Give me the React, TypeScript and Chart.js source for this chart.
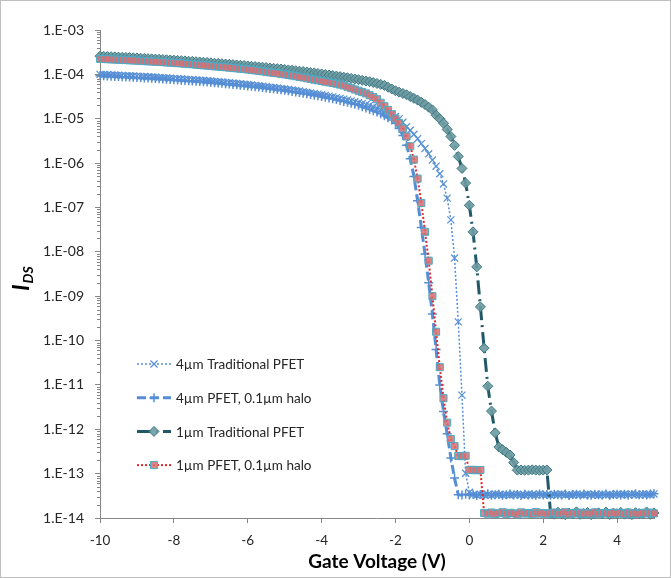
import React, { useEffect, useRef } from 'react';
import { Chart, registerables } from 'chart.js';
import { drawPoint } from 'chart.js/helpers';

Chart.register(...registerables);

// Gate voltage sweep (V)
const gateVoltage = [
  -10, -9.9, -9.8, -9.7, -9.6, -9.5, -9.4, -9.3, -9.2, -9.1,
  -9, -8.9, -8.8, -8.7, -8.6, -8.5, -8.4, -8.3, -8.2, -8.1,
  -8, -7.9, -7.8, -7.7, -7.6, -7.5, -7.4, -7.3, -7.2, -7.1,
  -7, -6.9, -6.8, -6.7, -6.6, -6.5, -6.4, -6.3, -6.2, -6.1,
  -6, -5.9, -5.8, -5.7, -5.6, -5.5, -5.4, -5.3, -5.2, -5.1,
  -5, -4.9, -4.8, -4.7, -4.6, -4.5, -4.4, -4.3, -4.2, -4.1,
  -4, -3.9, -3.8, -3.7, -3.6, -3.5, -3.4, -3.3, -3.2, -3.1,
  -3, -2.9, -2.8, -2.7, -2.6, -2.5, -2.4, -2.3, -2.2, -2.1,
  -2, -1.9, -1.8, -1.7, -1.6, -1.5, -1.4, -1.3, -1.2, -1.1,
  -1, -0.9, -0.8, -0.7, -0.6, -0.5, -0.4, -0.3, -0.2, -0.1,
  0, 0.1, 0.2, 0.3, 0.4, 0.5, 0.6, 0.7, 0.8, 0.9,
  1, 1.1, 1.2, 1.3, 1.4, 1.5, 1.6, 1.7, 1.8, 1.9,
  2, 2.1, 2.2, 2.3, 2.4, 2.5, 2.6, 2.7, 2.8, 2.9,
  3, 3.1, 3.2, 3.3, 3.4, 3.5, 3.6, 3.7, 3.8, 3.9,
  4, 4.1, 4.2, 4.3, 4.4, 4.5, 4.6, 4.7, 4.8, 4.9,
  5,
];

// I_DS (A) — 4µm Traditional PFET
const idsTrad4um = [
  1.00e-4, 9.91e-5, 9.82e-5, 9.73e-5, 9.64e-5, 9.56e-5, 9.47e-5, 9.38e-5, 9.29e-5, 9.21e-5,
  9.12e-5, 9.02e-5, 8.92e-5, 8.82e-5, 8.72e-5, 8.62e-5, 8.52e-5, 8.42e-5, 8.33e-5, 8.23e-5,
  8.13e-5, 8.03e-5, 7.92e-5, 7.82e-5, 7.71e-5, 7.61e-5, 7.50e-5, 7.40e-5, 7.29e-5, 7.19e-5,
  7.08e-5, 6.96e-5, 6.84e-5, 6.72e-5, 6.60e-5, 6.48e-5, 6.37e-5, 6.25e-5, 6.13e-5, 6.01e-5,
  5.89e-5, 5.77e-5, 5.65e-5, 5.53e-5, 5.41e-5, 5.29e-5, 5.16e-5, 5.04e-5, 4.92e-5, 4.80e-5,
  4.68e-5, 4.56e-5, 4.44e-5, 4.32e-5, 4.20e-5, 4.08e-5, 3.95e-5, 3.83e-5, 3.71e-5, 3.59e-5,
  3.47e-5, 3.35e-5, 3.23e-5, 3.11e-5, 2.99e-5, 2.88e-5, 2.76e-5, 2.64e-5, 2.52e-5, 2.41e-5,
  2.29e-5, 2.19e-5, 2.09e-5, 2.00e-5, 1.86e-5, 1.74e-5, 1.62e-5, 1.51e-5, 1.38e-5, 1.26e-5,
  1.12e-5, 1.00e-5, 8.32e-6, 6.61e-6, 5.50e-6, 4.47e-6, 3.55e-6, 2.75e-6, 2.14e-6, 1.62e-6,
  1.17e-6, 8.51e-7, 5.75e-7, 3.39e-7, 1.62e-7, 5.25e-8, 7.24e-9, 2.63e-10, 5.89e-12, 1.02e-13,
  3.80e-14, 3.36e-14, 3.27e-14, 3.44e-14, 3.30e-14, 3.39e-14, 3.23e-14, 3.47e-14, 3.34e-14, 3.28e-14,
  3.41e-14, 3.25e-14, 3.38e-14, 3.45e-14, 3.31e-14, 3.26e-14, 3.43e-14, 3.35e-14, 3.29e-14, 3.48e-14,
  3.32e-14, 3.37e-14, 3.24e-14, 3.42e-14, 3.33e-14, 3.46e-14, 3.28e-14, 3.40e-14, 3.30e-14, 3.44e-14,
  3.36e-14, 3.27e-14, 3.49e-14, 3.34e-14, 3.38e-14, 3.25e-14, 3.45e-14, 3.31e-14, 3.41e-14, 3.29e-14,
  3.47e-14, 3.35e-14, 3.43e-14, 3.32e-14, 3.50e-14, 3.37e-14, 3.28e-14, 3.46e-14, 3.39e-14, 3.33e-14,
  3.48e-14,
];

// I_DS (A) — 4µm PFET, 0.1µm halo
const idsHalo4um = [
  9.33e-5, 9.25e-5, 9.17e-5, 9.09e-5, 9.00e-5, 8.92e-5, 8.84e-5, 8.76e-5, 8.67e-5, 8.59e-5,
  8.51e-5, 8.42e-5, 8.33e-5, 8.24e-5, 8.14e-5, 8.05e-5, 7.96e-5, 7.87e-5, 7.78e-5, 7.68e-5,
  7.59e-5, 7.49e-5, 7.39e-5, 7.30e-5, 7.20e-5, 7.10e-5, 7.00e-5, 6.90e-5, 6.81e-5, 6.71e-5,
  6.61e-5, 6.50e-5, 6.39e-5, 6.28e-5, 6.17e-5, 6.06e-5, 5.94e-5, 5.83e-5, 5.72e-5, 5.61e-5,
  5.50e-5, 5.39e-5, 5.27e-5, 5.16e-5, 5.05e-5, 4.94e-5, 4.82e-5, 4.71e-5, 4.60e-5, 4.48e-5,
  4.37e-5, 4.25e-5, 4.13e-5, 4.01e-5, 3.89e-5, 3.77e-5, 3.64e-5, 3.52e-5, 3.40e-5, 3.28e-5,
  3.16e-5, 3.04e-5, 2.93e-5, 2.81e-5, 2.70e-5, 2.58e-5, 2.46e-5, 2.35e-5, 2.23e-5, 2.12e-5,
  2.00e-5, 1.86e-5, 1.74e-5, 1.62e-5, 1.51e-5, 1.41e-5, 1.29e-5, 1.17e-5, 1.05e-5, 9.33e-6,
  7.94e-6, 6.03e-6, 4.17e-6, 2.51e-6, 1.26e-6, 5.01e-7, 1.41e-7, 3.55e-8, 8.91e-9, 2.00e-9,
  3.98e-10, 6.31e-11, 1.00e-11, 2.51e-12, 7.94e-13, 2.24e-13, 7.94e-14, 3.35e-14, 3.28e-14, 3.42e-14,
  3.31e-14, 3.45e-14, 3.22e-14, 3.38e-14, 3.29e-14, 3.50e-14, 3.26e-14, 3.36e-14, 3.41e-14, 3.24e-14,
  3.33e-14, 3.47e-14, 3.28e-14, 3.39e-14, 3.21e-14, 3.44e-14, 3.32e-14, 3.36e-14, 3.27e-14, 3.48e-14,
  3.30e-14, 3.40e-14, 3.25e-14, 3.43e-14, 3.34e-14, 3.29e-14, 3.46e-14, 3.23e-14, 3.37e-14, 3.41e-14,
  3.28e-14, 3.49e-14, 3.32e-14, 3.26e-14, 3.44e-14, 3.35e-14, 3.30e-14, 3.47e-14, 3.24e-14, 3.39e-14,
  3.42e-14, 3.31e-14, 3.45e-14, 3.27e-14, 3.38e-14, 3.50e-14, 3.33e-14, 3.40e-14, 3.29e-14, 3.46e-14,
  3.52e-14,
];

// I_DS (A) — 1µm Traditional PFET
const idsTrad1um = [
  2.57e-4, 2.55e-4, 2.52e-4, 2.50e-4, 2.48e-4, 2.45e-4, 2.43e-4, 2.41e-4, 2.39e-4, 2.36e-4,
  2.34e-4, 2.31e-4, 2.29e-4, 2.26e-4, 2.24e-4, 2.21e-4, 2.19e-4, 2.16e-4, 2.14e-4, 2.11e-4,
  2.09e-4, 2.06e-4, 2.04e-4, 2.01e-4, 1.98e-4, 1.96e-4, 1.93e-4, 1.90e-4, 1.88e-4, 1.85e-4,
  1.82e-4, 1.79e-4, 1.77e-4, 1.74e-4, 1.71e-4, 1.69e-4, 1.66e-4, 1.63e-4, 1.60e-4, 1.58e-4,
  1.55e-4, 1.52e-4, 1.50e-4, 1.47e-4, 1.45e-4, 1.42e-4, 1.39e-4, 1.37e-4, 1.34e-4, 1.32e-4,
  1.29e-4, 1.26e-4, 1.24e-4, 1.21e-4, 1.18e-4, 1.16e-4, 1.13e-4, 1.10e-4, 1.08e-4, 1.05e-4,
  1.02e-4, 9.94e-5, 9.68e-5, 9.42e-5, 9.16e-5, 8.90e-5, 8.64e-5, 8.38e-5, 8.12e-5, 7.86e-5,
  7.60e-5, 7.33e-5, 7.08e-5, 6.84e-5, 6.53e-5, 6.24e-5, 5.96e-5, 5.62e-5, 5.13e-5, 4.68e-5,
  4.27e-5, 3.98e-5, 3.72e-5, 3.47e-5, 3.16e-5, 2.88e-5, 2.63e-5, 2.34e-5, 2.09e-5, 1.82e-5,
  1.58e-5, 1.20e-5, 1.00e-5, 7.94e-6, 5.75e-6, 3.98e-6, 2.51e-6, 1.41e-6, 7.59e-7, 3.55e-7,
  1.12e-7, 2.82e-8, 4.57e-9, 5.75e-10, 6.76e-11, 9.33e-12, 2.57e-12, 8.32e-13, 3.98e-13, 3.47e-13,
  3.02e-13, 2.63e-13, 1.78e-13, 1.20e-13, 1.21e-13, 1.19e-13, 1.20e-13, 1.22e-13, 1.20e-13, 1.19e-13,
  1.20e-13, 1.21e-13, 1.28e-14, 1.22e-14, 1.35e-14, 1.25e-14, 1.18e-14, 1.30e-14, 1.24e-14, 1.38e-14,
  1.21e-14, 1.27e-14, 1.33e-14, 1.19e-14, 1.26e-14, 1.31e-14, 1.23e-14, 1.36e-14, 1.20e-14, 1.29e-14,
  1.25e-14, 1.34e-14, 1.22e-14, 1.28e-14, 1.19e-14, 1.32e-14, 1.26e-14, 1.24e-14, 1.37e-14, 1.21e-14,
  1.30e-14,
];

// I_DS (A) — 1µm PFET, 0.1µm halo
const idsHalo1um = [
  2.24e-4, 2.22e-4, 2.20e-4, 2.18e-4, 2.16e-4, 2.14e-4, 2.12e-4, 2.10e-4, 2.08e-4, 2.06e-4,
  2.04e-4, 2.02e-4, 1.99e-4, 1.97e-4, 1.95e-4, 1.93e-4, 1.91e-4, 1.89e-4, 1.86e-4, 1.84e-4,
  1.82e-4, 1.79e-4, 1.77e-4, 1.74e-4, 1.71e-4, 1.69e-4, 1.66e-4, 1.63e-4, 1.60e-4, 1.58e-4,
  1.55e-4, 1.52e-4, 1.50e-4, 1.47e-4, 1.45e-4, 1.42e-4, 1.39e-4, 1.37e-4, 1.34e-4, 1.32e-4,
  1.29e-4, 1.26e-4, 1.23e-4, 1.20e-4, 1.17e-4, 1.14e-4, 1.11e-4, 1.08e-4, 1.06e-4, 1.03e-4,
  1.00e-4, 9.70e-5, 9.40e-5, 9.10e-5, 8.80e-5, 8.50e-5, 8.20e-5, 7.90e-5, 7.60e-5, 7.35e-5,
  7.08e-5, 6.84e-5, 6.61e-5, 6.38e-5, 6.17e-5, 5.89e-5, 5.62e-5, 5.25e-5, 4.90e-5, 4.57e-5,
  4.27e-5, 3.98e-5, 3.72e-5, 3.39e-5, 3.09e-5, 2.75e-5, 2.29e-5, 1.91e-5, 1.58e-5, 1.26e-5,
  1.00e-5, 7.94e-6, 6.03e-6, 3.98e-6, 2.40e-6, 1.20e-6, 4.47e-7, 1.26e-7, 2.82e-8, 6.31e-9,
  1.00e-9, 1.58e-10, 2.51e-11, 5.01e-12, 1.41e-12, 6.03e-13, 4.17e-13, 2.51e-13, 2.48e-13, 2.53e-13,
  1.20e-13, 1.22e-13, 1.19e-13, 1.21e-13, 1.30e-14, 1.25e-14, 1.33e-14, 1.22e-14, 1.28e-14, 1.35e-14,
  1.24e-14, 1.31e-14, 1.27e-14, 1.20e-14, 1.34e-14, 1.26e-14, 1.29e-14, 1.23e-14, 1.36e-14, 1.25e-14,
  1.30e-14, 1.22e-14, 1.28e-14, 1.33e-14, 1.24e-14, 1.27e-14, 1.35e-14, 1.21e-14, 1.29e-14, 1.26e-14,
  1.32e-14, 1.23e-14, 1.28e-14, 1.25e-14, 1.34e-14, 1.22e-14, 1.30e-14, 1.27e-14, 1.24e-14, 1.31e-14,
  1.26e-14, 1.29e-14, 1.21e-14, 1.33e-14, 1.25e-14, 1.28e-14, 1.23e-14, 1.30e-14, 1.26e-14, 1.32e-14,
  1.27e-14,
];

const seriesLabels = [
  '4µm Traditional PFET',
  '4µm PFET, 0.1µm halo',
  '1µm Traditional PFET',
  '1µm PFET, 0.1µm halo',
];

const xTickValues = [-10, -8, -6, -4, -2, 0, 2, 4];
const yDecadeTicks = [1e-14, 1e-13, 1e-12, 1e-11, 1e-10, 1e-9, 1e-8, 1e-7, 1e-6, 1e-5, 1e-4, 1e-3];
const xAxisTitle = 'Gate Voltage (V)';
const yAxisTitleMain = 'I';
const yAxisTitleSub = 'DS';

const FONT = 'Lato, "Open Sans", sans-serif';
const AXIS_GRAY = '#868686';
const TEXT = '#262626';

const toPoints = (ys: number[]) => gateVoltage.map((x, i) => ({ x, y: ys[i] }));

const fmtExp = (v: number) => {
  const e = Math.round(Math.log10(v));
  return `1.E${e < 0 ? '-' : '+'}${String(Math.abs(e)).padStart(2, '0')}`;
};

const decorPlugin = {
  id: 'decor',
  beforeDraw(chart: any) {
    const { ctx, width, height } = chart;
    ctx.save();
    ctx.fillStyle = '#ffffff';
    ctx.fillRect(0, 0, width, height);
    ctx.strokeStyle = '#BFBFBF';
    ctx.lineWidth = 1;
    ctx.strokeRect(0.5, 0.5, width - 1, height - 1);
    ctx.restore();
  },
  afterDraw(chart: any) {
    const { ctx } = chart;
    const ys = chart.scales.y;
    const left = chart.chartArea.left;
    // minor ticks on the log axis
    ctx.save();
    ctx.strokeStyle = AXIS_GRAY;
    ctx.lineWidth = 1;
    for (const d of yDecadeTicks) {
      for (let m = 2; m <= 9; m++) {
        const v = d * m;
        if (v > ys.max) continue;
        const py = Math.round(ys.getPixelForValue(v)) + 0.5;
        ctx.beginPath();
        ctx.moveTo(left - 3, py);
        ctx.lineTo(left, py);
        ctx.stroke();
      }
    }
    ctx.restore();

    // y axis title with subscript
    ctx.save();
    ctx.translate(29, 279);
    ctx.rotate(-Math.PI / 2);
    ctx.fillStyle = '#000';
    ctx.textBaseline = 'alphabetic';
    ctx.font = `italic bold 22px ${FONT}`;
    const wI = ctx.measureText(yAxisTitleMain).width;
    ctx.font = `italic bold 14px ${FONT}`;
    const wS = ctx.measureText(yAxisTitleSub).width;
    const start = -(wI + wS) / 2;
    ctx.font = `italic bold 22px ${FONT}`;
    ctx.fillText(yAxisTitleMain, start, 0);
    ctx.font = `italic bold 14px ${FONT}`;
    ctx.fillText(yAxisTitleSub, start + wI + 1, 4);
    ctx.restore();

    // legend
    const datasets = chart.data.datasets;
    [0, 1, 2, 3].forEach((i, k) => {
      const ds = datasets[i];
      const y = 364 + k * 33.7;
      ctx.save();
      ctx.strokeStyle = ds.borderColor;
      ctx.lineWidth = ds.borderWidth;
      ctx.setLineDash(ds.borderDash || []);
      ctx.beginPath();
      ctx.moveTo(137, y);
      ctx.lineTo(171, y);
      ctx.stroke();
      ctx.setLineDash([]);
      ctx.fillStyle = ds.pointBackgroundColor;
      ctx.strokeStyle = ds.pointBorderColor;
      ctx.lineWidth = ds.pointBorderWidth;
      drawPoint(ctx, { pointStyle: ds.pointStyle, radius: ds.pointRadius, borderWidth: ds.pointBorderWidth, rotation: 0 }, 154, y);
      ctx.fillStyle = TEXT;
      ctx.font = `13.5px ${FONT}`;
      ctx.textBaseline = 'middle';
      ctx.textAlign = 'left';
      ctx.fillText(ds.label, 176, y + 1);
      ctx.restore();
    });
  },
};

export default function App() {
  const canvasRef = useRef<HTMLCanvasElement | null>(null);

  useEffect(() => {
    const canvas = canvasRef.current;
    if (!canvas) return;
    const chart = new Chart(canvas, {
      type: 'line',
      data: {
        datasets: [
          {
            label: seriesLabels[0],
            data: toPoints(idsTrad4um),
            borderColor: '#558ED5',
            borderWidth: 1.5,
            borderDash: [2, 2],
            pointStyle: 'crossRot',
            pointRadius: 5,
            pointBorderColor: '#558ED5',
            pointBackgroundColor: '#558ED5',
            pointBorderWidth: 1.2,
            order: 3,
            clip: false,
          },
          {
            label: seriesLabels[1],
            data: toPoints(idsHalo4um),
            borderColor: '#558ED5',
            borderWidth: 3,
            borderDash: [9, 4],
            pointStyle: 'cross',
            pointRadius: 4.5,
            pointBorderColor: '#558ED5',
            pointBackgroundColor: '#558ED5',
            pointBorderWidth: 1.5,
            order: 2,
            clip: false,
          },
          {
            label: seriesLabels[2],
            data: toPoints(idsTrad1um),
            borderColor: '#215968',
            borderWidth: 3,
            borderDash: [14, 5, 2, 5],
            pointStyle: 'rectRot',
            pointRadius: 5,
            pointBorderColor: '#3E7A86',
            pointBackgroundColor: 'rgba(110,155,162,0.9)',
            pointBorderWidth: 1,
            order: 1,
            clip: false,
          },
          {
            label: seriesLabels[3],
            data: toPoints(idsHalo1um),
            borderColor: '#E0282C',
            borderWidth: 2,
            borderDash: [2, 2],
            pointStyle: 'rect',
            pointRadius: 5,
            pointBorderColor: '#4BACC6',
            pointBackgroundColor: 'rgba(215,110,115,0.85)',
            pointBorderWidth: 1,
            order: 0,
            clip: false,
          },
        ],
      },
      options: {
        responsive: false,
        animation: false,
        devicePixelRatio: 1,
        layout: { padding: { top: 30, right: 17, bottom: 5, left: 0 } },
        elements: { line: { tension: 0 } },
        plugins: {
          legend: { display: false },
          tooltip: { enabled: false },
        },
        scales: {
          x: {
            type: 'linear',
            min: -10,
            max: 5,
            afterBuildTicks: (s: any) => {
              s.ticks = xTickValues.map((v) => ({ value: v }));
            },
            afterFit: (s: any) => {
              s.height = 55;
            },
            grid: { drawOnChartArea: false, drawTicks: true, tickLength: 5, color: AXIS_GRAY },
            border: { display: true, color: AXIS_GRAY, width: 1 },
            ticks: {
              autoSkip: false,
              maxRotation: 0,
              padding: 10,
              color: TEXT,
              font: { family: FONT, size: 13.5 },
              callback: (v: any) => String(v),
            },
            title: {
              display: true,
              text: xAxisTitle,
              color: '#000',
              font: { family: FONT, size: 19, weight: 'bold' },
              padding: { top: 0, bottom: 0 },
            },
          },
          y: {
            type: 'logarithmic',
            min: 1e-14,
            max: 1e-3,
            afterBuildTicks: (s: any) => {
              s.ticks = yDecadeTicks.map((v) => ({ value: v, major: true }));
            },
            afterFit: (s: any) => {
              s.width = 100;
            },
            grid: { drawOnChartArea: false, drawTicks: true, tickLength: 5, color: AXIS_GRAY },
            border: { display: true, color: AXIS_GRAY, width: 1 },
            ticks: {
              autoSkip: false,
              padding: 11,
              color: TEXT,
              font: { family: FONT, size: 14 },
              callback: (v: any) => fmtExp(Number(v)),
            },
          },
        },
      },
      plugins: [decorPlugin],
    } as any);
    return () => chart.destroy();
  }, []);

  return (
    <div style={{ position: 'absolute', left: 0, top: 0, width: 671, height: 578 }}>
      <canvas ref={canvasRef} width={671} height={578} />
    </div>
  );
}
